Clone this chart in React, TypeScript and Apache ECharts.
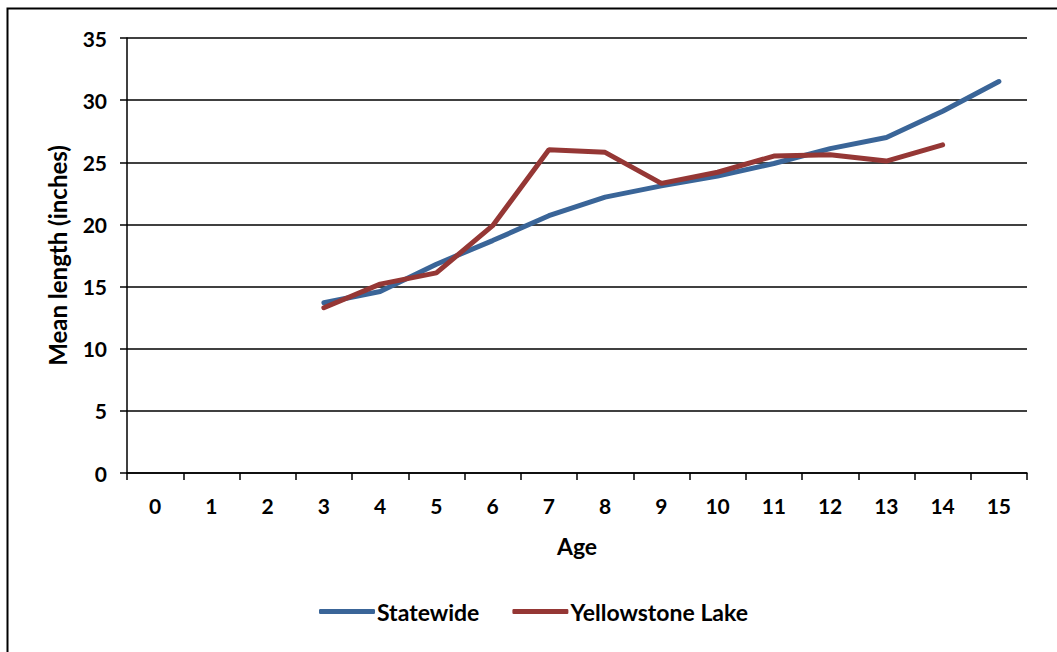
import React, { useEffect, useRef } from "react";
import * as echarts from "echarts";

const ages = ["0", "1", "2", "3", "4", "5", "6", "7", "8", "9", "10", "11", "12", "13", "14", "15"];
const statewide = [null, null, null, 13.7, 14.6, 16.8, 18.7, 20.7, 22.2, 23.1, 23.9, 24.9, 26.1, 27.0, 29.1, 31.5];
const yellowstone = [null, null, null, 13.3, 15.2, 16.1, 19.9, 26.0, 25.8, 23.3, 24.2, 25.5, 25.6, 25.1, 26.4, null];

const FONT = "Lato, 'Open Sans', 'DejaVu Sans', sans-serif";

export default function App() {
  const ref = useRef<HTMLDivElement>(null);
  useEffect(() => {
    if (!ref.current) return;
    const chart = echarts.init(ref.current, null, { renderer: "svg" });
    chart.setOption({
      animation: false,
      backgroundColor: "#fff",
      graphic: [
        {
          type: "rect",
          shape: { x: 7.5, y: 8.5, width: 1060, height: 660 },
          style: { fill: "none", stroke: "#000", lineWidth: 2 },
          silent: true,
        },
      ],
      grid: { left: 127, top: 38, right: 30, bottom: 179 },
      legend: {
        bottom: 24,
        left: 314,
        itemWidth: 56,
        itemHeight: 5,
        itemGap: 33,
        icon: "roundRect",
        textStyle: { fontFamily: FONT, fontWeight: "bold", fontSize: 23, color: "#000", padding: [0, 0, 0, -3] },
        data: ["Statewide", "Yellowstone Lake"],
      },
      xAxis: {
        type: "category",
        data: ages,
        boundaryGap: true,
        name: "Age",
        nameLocation: "middle",
        nameGap: 61,
        nameTextStyle: { fontFamily: FONT, fontWeight: "bold", fontSize: 23, color: "#000" },
        axisLine: { lineStyle: { color: "#000", width: 1.5 } },
        axisTick: { show: true, length: 7, lineStyle: { color: "#000", width: 1.5 } },
        axisLabel: { fontFamily: FONT, fontWeight: "bold", fontSize: 21, color: "#000", margin: 22 },
      },
      yAxis: {
        type: "value",
        min: 0,
        max: 35,
        interval: 5,
        name: "Mean length (inches)",
        nameLocation: "middle",
        nameGap: 58,
        nameTextStyle: { fontFamily: FONT, fontWeight: "bold", fontSize: 24, color: "#000" },
        axisLine: { show: true, lineStyle: { color: "#000", width: 1.5 } },
        axisTick: { show: true, length: 7, lineStyle: { color: "#000", width: 1.5 } },
        axisLabel: { fontFamily: FONT, fontWeight: "bold", fontSize: 21, color: "#000", margin: 20 },
        splitLine: { show: true, lineStyle: { color: "#000", width: 1.5 } },
      },
      series: [
        {
          name: "Statewide",
          type: "line",
          data: statewide,
          showSymbol: false,
          symbol: "none",
          itemStyle: { color: "#3A6598" },
          lineStyle: { color: "#3A6598", width: 5, cap: "round" },
        },
        {
          name: "Yellowstone Lake",
          type: "line",
          data: yellowstone,
          showSymbol: false,
          symbol: "none",
          itemStyle: { color: "#953735" },
          lineStyle: { color: "#953735", width: 5, cap: "round" },
        },
      ],
    });
    return () => chart.dispose();
  }, []);
  return (
    <div
      ref={ref}
      style={{ position: "absolute", left: 0, top: 0, width: 1057, height: 652 }}
    />
  );
}
